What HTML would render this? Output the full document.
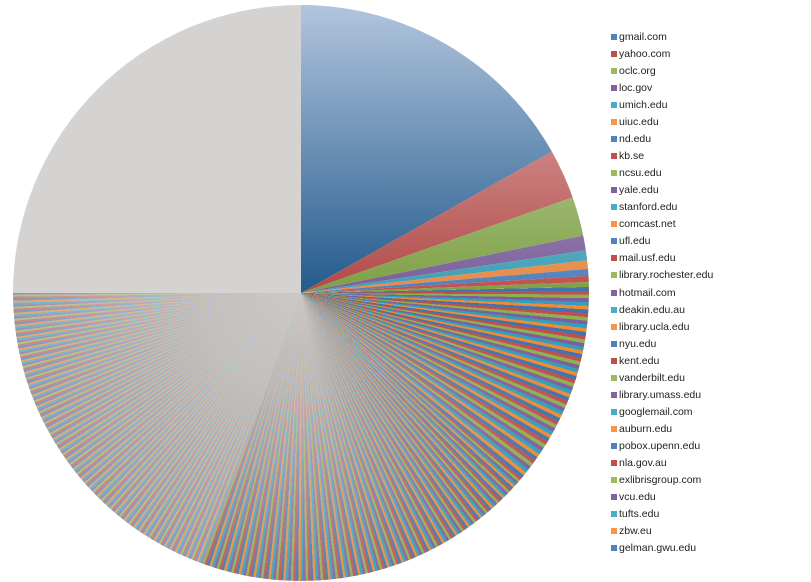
<!DOCTYPE html>
<html><head><meta charset="utf-8"><style>
html,body{margin:0;padding:0;background:#fff;width:811px;height:582px;overflow:hidden;font-family:"Liberation Sans",sans-serif;}
#pie,#ov{position:absolute;left:13px;top:5px;width:576px;height:576px;border-radius:50%;}
#ov{background:radial-gradient(circle at center, rgba(205,203,201,0.95) 0%, rgba(205,203,201,0.75) 25%, rgba(205,203,201,0.35) 55%, rgba(205,203,201,0) 80%);
-webkit-mask:conic-gradient(transparent 0deg 100deg, rgba(0,0,0,0.5) 130deg, #000 170deg, #000 270deg, transparent 270deg);
mask:conic-gradient(transparent 0deg 100deg, rgba(0,0,0,0.5) 130deg, #000 170deg, #000 270deg, transparent 270deg);}
#svg{position:absolute;left:0;top:0;}
.lg{position:absolute;left:611px;font-size:10.5px;color:#222;line-height:12px;}
.lg i{position:absolute;left:0;top:3px;width:6px;height:6px;}
.lg span{position:absolute;left:8px;top:0;white-space:nowrap;}
</style></head><body>
<div id="pie"></div>
<div id="ov"></div>
<svg id="svg" width="811" height="582"></svg>
<div id="legend"></div>
<script>
var cx=301,cy=293,r=288;
var pal=['#3f74b0','#c0504d','#8fb050','#7d5f9e','#2fa0bd','#ef8a35'];
var pal2=['#6f94c4','#d07a77','#a8c47a','#9a85b5','#5bb5cc','#f0a060'];
var stops=[],a=88.8,i=0;
function push(c,a0,a1){stops.push(c+' '+a0.toFixed(2)+'deg '+a1.toFixed(2)+'deg');}
push('#fff',0,88.8);
while(a<130){var w=0.75;push(pal[i%6],a,a+w);a+=w;i++;}
while(a<200){var w=0.5;push(pal[i%6],a,a+w);a+=w;i++;}
while(a<270){var w=0.4;push(pal2[i%6],a,Math.min(a+w,270));a+=w;i++;}
push('#d5d3d2',270,360);
document.getElementById('pie').style.background='conic-gradient('+stops.join(',')+')';
var big=[[0,60.6,'#b2c5dd','#235a8c'],[60.6,70.6,'#e8bcbc','#b04a47'],[70.6,78.5,'#d3e2bf','#7ea046'],[78.5,81.5,'#c9bdd6','#7a5f9a'],[81.5,83.5,'#b5dbe4','#3f9fb5'],[83.5,85.2,'#f7c8a8','#e88a45'],[85.2,86.6,'#b8c9e0','#4f81bd'],[86.6,87.8,'#e6b3b2','#c0504d'],[87.8,88.8,'#c9dcaa','#7fa045']];
var s='<defs>';
big.forEach(function(b,k){s+='<linearGradient id="g'+k+'" gradientUnits="userSpaceOnUse" x1="0" y1="5" x2="0" y2="293"><stop offset="0" stop-color="'+b[2]+'"/><stop offset="1" stop-color="'+b[3]+'"/></linearGradient>';});
s+='</defs>';
function pt(d){var t=d*Math.PI/180;return (cx+r*Math.sin(t)).toFixed(2)+','+(cy-r*Math.cos(t)).toFixed(2);}
big.forEach(function(b,k){s+='<path d="M'+cx+','+cy+' L'+pt(b[0])+' A'+r+','+r+' 0 0 1 '+pt(b[1])+' Z" fill="url(#g'+k+')"/>';});
document.getElementById('svg').innerHTML=s;
var names=['gmail.com','yahoo.com','oclc.org','loc.gov','umich.edu','uiuc.edu','nd.edu','kb.se','ncsu.edu','yale.edu','stanford.edu','comcast.net','ufl.edu','mail.usf.edu','library.rochester.edu','hotmail.com','deakin.edu.au','library.ucla.edu','nyu.edu','kent.edu','vanderbilt.edu','library.umass.edu','googlemail.com','auburn.edu','pobox.upenn.edu','nla.gov.au','exlibrisgroup.com','vcu.edu','tufts.edu','zbw.eu','gelman.gwu.edu'];
var lc=['#4f81bd','#c0504d','#9bbb59','#8064a2','#4bacc6','#f79646'];
var h='';
names.forEach(function(n,k){h+='<div class="lg" style="top:'+(31+k*17.03).toFixed(1)+'px"><i style="background:'+lc[k%6]+'"></i><span>'+n+'</span></div>';});
document.getElementById('legend').innerHTML=h;
</script>
</body></html>
